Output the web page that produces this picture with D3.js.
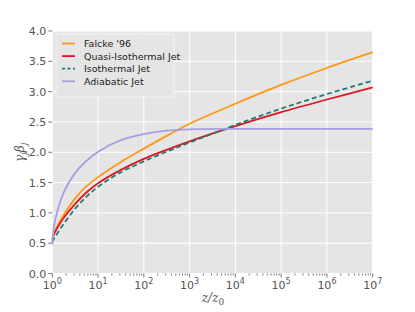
<!DOCTYPE html>
<html>
<head>
<meta charset="utf-8"/>
<style>
  body { margin: 0; background: #fff; }
  svg text { font-family: "DejaVu Sans", sans-serif; }
</style>
</head>
<body>
<svg id="chart" width="415" height="312"></svg>
<script src="https://d3js.org/d3.v7.min.js"></script>
<script>
// z/z0 sample points
const zVals = [1, 1.1, 1.26, 1.78, 3.16, 5.62, 10, 31.6, 100, 316, 1e3, 1e4, 1e5, 1e6, 1e7];

const falcke   = [0.55, 0.66, 0.77, 0.97, 1.24, 1.44, 1.59, 1.84, 2.06, 2.27, 2.47, 2.80, 3.11, 3.39, 3.65];
const quasiIso = [0.58, 0.66, 0.74, 0.92, 1.15, 1.34, 1.49, 1.71, 1.89, 2.04, 2.18, 2.43, 2.66, 2.87, 3.07];
const isoJet   = [0.52, 0.58, 0.65, 0.82, 1.07, 1.27, 1.43, 1.67, 1.85, 2.01, 2.16, 2.45, 2.72, 2.96, 3.18];
const adiabJet = [0.48, 0.80, 1.00, 1.34, 1.66, 1.86, 2.01, 2.20, 2.30, 2.355, 2.378, 2.385, 2.385, 2.385, 2.385];

const seriesNames = ["Falcke '96", "Quasi-Isothermal Jet", "Isothermal Jet", "Adiabatic Jet"];
const yTicks = [0, 0.5, 1, 1.5, 2, 2.5, 3, 3.5, 4];
const xMajors = [1, 10, 100, 1e3, 1e4, 1e5, 1e6, 1e7];

const series = [
  {name: seriesNames[0], vals: falcke,   color: "#ff9716", dash: null},
  {name: seriesNames[1], vals: quasiIso, color: "#df1620", dash: null},
  {name: seriesNames[2], vals: isoJet,   color: "#1b7d78", dash: "5,3"},
  {name: seriesNames[3], vals: adiabJet, color: "#a59ee2", dash: null}
];

const svg = d3.select("#chart");
const pL = 52.3, pR = 372.7, pT = 31, pB = 273.5;

const x = d3.scaleLog().domain([1, 1e7]).range([pL, pR]);
const y = d3.scaleLinear().domain([0, 4]).range([pB, pT]);

// background
svg.append("rect")
  .attr("x", pL).attr("y", pT)
  .attr("width", pR - pL).attr("height", pB - pT)
  .attr("fill", "#e5e5e5");

// grid
svg.append("g").selectAll("line").data(xMajors).join("line")
  .attr("x1", d => x(d)).attr("x2", d => x(d))
  .attr("y1", pT).attr("y2", pB)
  .attr("stroke", "#fff").attr("stroke-width", 1);
svg.append("g").selectAll("line").data(yTicks).join("line")
  .attr("x1", pL).attr("x2", pR)
  .attr("y1", d => y(d)).attr("y2", d => y(d))
  .attr("stroke", "#fff").attr("stroke-width", 1);

// x axis
const xAxis = svg.append("g").attr("transform", `translate(0,${pB})`);
const minors = x.ticks().filter(d => !xMajors.includes(d));
xAxis.selectAll("line.minor").data(minors).join("line")
  .attr("class", "minor")
  .attr("x1", d => x(d)).attr("x2", d => x(d))
  .attr("y1", 0).attr("y2", 2)
  .attr("stroke", "#555").attr("stroke-width", 0.8);
xAxis.selectAll("line.major").data(xMajors).join("line")
  .attr("class", "major")
  .attr("x1", d => x(d)).attr("x2", d => x(d))
  .attr("y1", 0).attr("y2", 4)
  .attr("stroke", "#555").attr("stroke-width", 0.8);
const xl = xAxis.selectAll("text").data(xMajors).join("text")
  .attr("x", d => x(d)).attr("y", 15)
  .attr("text-anchor", "middle")
  .attr("fill", "#555").attr("font-size", 11);
xl.append("tspan").text("10");
xl.append("tspan").attr("dy", -5).attr("font-size", 8)
  .text(d => Math.round(Math.log10(d)));

// y axis
const yAxis = svg.append("g");
yAxis.selectAll("line").data(yTicks).join("line")
  .attr("x1", pL - 4).attr("x2", pL)
  .attr("y1", d => y(d)).attr("y2", d => y(d))
  .attr("stroke", "#555").attr("stroke-width", 0.8);
yAxis.selectAll("text").data(yTicks).join("text")
  .attr("x", pL - 6).attr("y", d => y(d) + 4)
  .attr("text-anchor", "end")
  .attr("fill", "#555").attr("font-size", 11)
  .text(d => d.toFixed(1));

// axis labels
const xLab = svg.append("text")
  .attr("x", 213).attr("y", 302)
  .attr("text-anchor", "middle")
  .attr("fill", "#555").attr("font-size", 12)
  .style("font-family", "'DejaVu Serif', serif").style("font-style", "italic");
xLab.append("tspan").text("z/z");
xLab.append("tspan").attr("dy", 3).attr("font-size", 9).style("font-style", "normal").text("0");

const yLab = svg.append("text")
  .attr("transform", `translate(24,${(pT + pB) / 2}) rotate(-90)`)
  .attr("text-anchor", "middle")
  .attr("fill", "#555").attr("font-size", 12)
  .style("font-family", "'DejaVu Serif', serif").style("font-style", "italic");
yLab.append("tspan").text("γ");
yLab.append("tspan").attr("dy", 3).attr("font-size", 9).text("j");
yLab.append("tspan").attr("dy", -3).text("β");
yLab.append("tspan").attr("dy", 3).attr("font-size", 9).text("j");

// lines
const line = d3.line()
  .x((d, i) => x(zVals[i]))
  .y(d => y(d))
  .curve(d3.curveCatmullRom.alpha(0.5));

const plot = svg.append("g");
series.forEach(s => {
  plot.append("path")
    .datum(s.vals)
    .attr("d", line)
    .attr("fill", "none")
    .attr("stroke", s.color)
    .attr("stroke-width", 1.8)
    .attr("stroke-dasharray", s.dash);
});

// legend
const lg = svg.append("g");
lg.append("rect")
  .attr("x", 56).attr("y", 34)
  .attr("width", 118).attr("height", 63)
  .attr("fill", "#e5e5e5").attr("stroke", "#f2f2f2").attr("stroke-width", 1);
series.forEach((s, i) => {
  const yy = 43.5 + i * 12.6;
  lg.append("line")
    .attr("x1", 62).attr("x2", 75).attr("y1", yy).attr("y2", yy)
    .attr("stroke", s.color).attr("stroke-width", 1.8)
    .attr("stroke-dasharray", s.dash ? "3,2.5" : null);
  lg.append("text")
    .attr("x", 84).attr("y", yy + 3.5)
    .attr("fill", "#222").attr("font-size", 9.5)
    .text(s.name);
});
</script>
</body>
</html>
